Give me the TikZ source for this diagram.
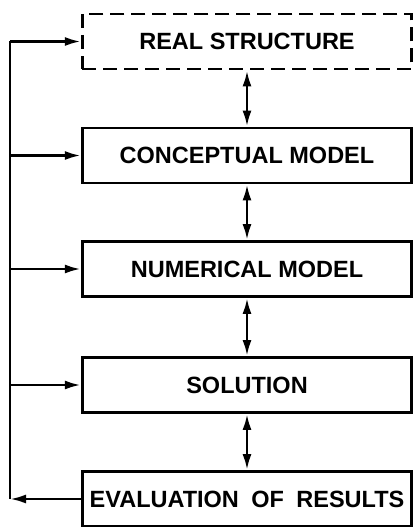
\documentclass[tikz,border=0pt]{standalone}
\usepackage{fontspec}
\setmainfont{Liberation Sans}
\usetikzlibrary{arrows.meta}
\tikzset{
  box/.style={draw, line width=2.8pt, minimum width=329.5pt, minimum height=55pt,
    inner sep=0pt, font=\fontsize{23.5}{26}\selectfont\bfseries, anchor=center},
  dashbox/.style={box, dash pattern=on 14pt off 7pt},
  conn/.style={line width=2.6pt, -{Latex[length=16pt,width=9pt]}},
  dconn/.style={line width=2.6pt, {Latex[length=16pt,width=9pt]}-{Latex[length=16pt,width=9pt]}}
}
\begin{document}
\begin{tikzpicture}[x=1pt,y=-1pt]
\useasboundingbox (0,0) rectangle (414,527);
\node[dashbox] (real) at (247,41.5) {REAL STRUCTURE};
\node[box] (conc) at (247,155.5) {CONCEPTUAL MODEL};
\node[box] (num) at (247,269) {NUMERICAL MODEL};
\node[box] (sol) at (247,385) {SOLUTION};
\node[box] (eval) at (247,499) {EVALUATION\hspace{0.25em} OF\hspace{0.25em} RESULTS};
\coordinate (top) at (10,41.5);
\coordinate (bot) at (10,499);
\draw[line width=2.6pt] (top) -- (bot);
\foreach \n in {real,conc,num,sol}{
  \draw[conn] (top |- \n.west) -- (\n.west);
}
\draw[conn] (eval.west) -- (bot);
\draw[dconn] (real.south) -- (conc.north);
\draw[dconn] (conc.south) -- (num.north);
\draw[dconn] (num.south) -- (sol.north);
\draw[dconn] (sol.south) -- (eval.north);
\end{tikzpicture}
\end{document}
